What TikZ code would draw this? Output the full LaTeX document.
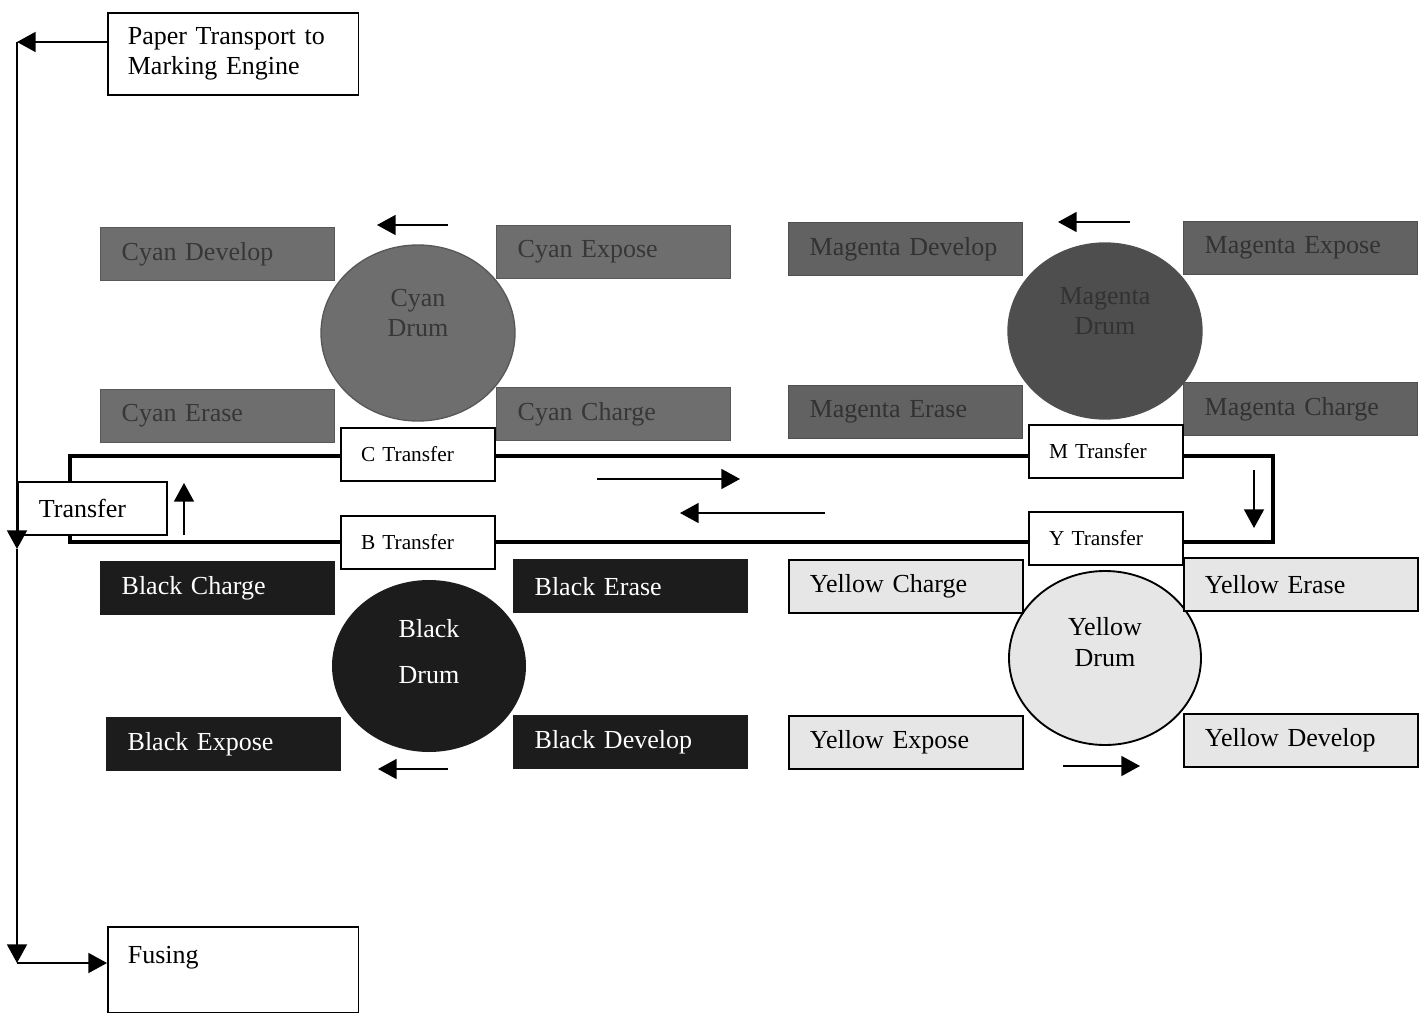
\documentclass[tikz,border=0pt]{standalone}
\usepackage{fontspec}
\setmainfont{Liberation Serif}
\usetikzlibrary{shapes.geometric,arrows.meta}
\definecolor{cfill}{RGB}{110,110,110}
\definecolor{cborder}{RGB}{88,88,88}
\definecolor{ctext}{RGB}{55,55,55}
\definecolor{mfill}{RGB}{98,98,98}
\definecolor{mborder}{RGB}{80,80,80}
\definecolor{mtext}{RGB}{50,50,50}
\definecolor{mdrumfill}{RGB}{78,78,78}
\definecolor{kfill}{RGB}{28,28,28}
\definecolor{yfill}{RGB}{230,230,230}
\begin{document}
\begin{tikzpicture}[x=0.75pt,y=-0.75pt,
  stagebox/.style={rectangle, anchor=north west, minimum height=39.75pt, text width=144pt, inner xsep=15.75pt, inner ysep=0pt, align=left, font=\fontsize{19.5}{23}\selectfont, line width=1pt},
  cyanbox/.style={stagebox, fill=cfill, draw=cborder, text=ctext},
  magbox/.style={stagebox, fill=mfill, draw=mborder, text=mtext},
  blackbox/.style={stagebox, fill=kfill, draw=kfill, text=white},
  yelbox/.style={stagebox, fill=yfill, draw=black, line width=1.4pt, text=black},
  drum/.style={ellipse, minimum width=145.5pt, minimum height=132pt, inner sep=0pt},
  drumtext/.style={font=\fontsize{19.5}{23}\selectfont, align=center},
  xferbox/.style={rectangle, draw, line width=1.5pt, fill=white, anchor=north west, minimum height=39.75pt, text width=85.5pt, inner xsep=15pt, inner ysep=0pt, align=left, font=\fontsize{16}{19}\selectfont},
  plainbox/.style={rectangle, draw, line width=1.3pt, fill=white, anchor=north west, inner xsep=15pt, inner ysep=0pt, align=left, font=\fontsize{19.5}{23}\selectfont},
  belt/.style={line width=3pt},
  flow/.style={line width=1.4pt, -{Triangle[length=14pt,width=15pt]}},
  dirarrow/.style={line width=1.3pt, -{Triangle[length=14pt,width=15pt]}}
]
\useasboundingbox (0,0) rectangle (1424,1013);

% drums
\node[drum, fill=cfill, draw=cborder, line width=1pt,
  label={[drumtext, text=ctext, yshift=15pt]center:Cyan\\Drum}] (cdrum) at (418,333) {};
\node[drum, fill=mdrumfill, draw=mborder, line width=1pt,
  label={[drumtext, text=mtext, yshift=15pt]center:Magenta\\Drum}] (mdrum) at (1105,331) {};
\node[drum, fill=kfill, minimum height=129pt,
  label={[font=\fontsize{19.5}{34.5}\selectfont, align=center, text=white, yshift=10.5pt]center:Black\\Drum}] (kdrum) at (429,666) {};
\node[drum, fill=yfill, draw=black, line width=1.4pt, minimum width=144pt, minimum height=130.5pt,
  label={[drumtext, text=black, yshift=12pt]center:Yellow\\Drum}] (ydrum) at (1105,658) {};

% cyan stages
\node[cyanbox] (cdev) at (100,227) {\mbox{Cyan Develop}};
\node[cyanbox] (cexp) at (496,225) {\mbox{Cyan Expose}};
\node[cyanbox] (cera) at (100,389) {\mbox{Cyan Erase}};
\node[cyanbox] (ccha) at (496,387) {\mbox{Cyan Charge}};
% magenta stages
\node[magbox] (mdev) at (788,222) {\mbox{Magenta Develop}};
\node[magbox] (mexp) at (1183,221) {\mbox{Magenta Expose}};
\node[magbox] (mera) at (788,385) {\mbox{Magenta Erase}};
\node[magbox] (mcha) at (1183,382) {\mbox{Magenta Charge}};
% black stages
\node[blackbox] (kcha) at (100,561) {\mbox{Black Charge}};
\node[blackbox] (kera) at (513,559) {\mbox{Black Erase}};
\node[blackbox] (kexp) at (106,717) {\mbox{Black Expose}};
\node[blackbox] (kdev) at (513,715) {\mbox{Black Develop}};
% yellow stages
\node[yelbox] (ycha) at (788,559) {\mbox{Yellow Charge}};
\node[yelbox] (yera) at (1183,557) {\mbox{Yellow Erase}};
\node[yelbox] (yexp) at (788,715) {\mbox{Yellow Expose}};
\node[yelbox] (ydev) at (1183,713) {\mbox{Yellow Develop}};

% transfer boxes
\node[xferbox] (ctr) at (340,427) {C Transfer};
\node[xferbox] (btr) at (340,515) {B Transfer};
\node[xferbox] (mtr) at (1028,424) {M Transfer};
\node[xferbox] (ytr) at (1028,511) {Y Transfer};
\node[plainbox, text width=80.25pt, inner xsep=15.75pt, minimum height=39.75pt] (tb) at (17,481) {Transfer};

% paper & fusing
\node[plainbox, text width=158pt, minimum height=61.5pt] (paper) at (107,12) {Paper Transport to\\Marking Engine};
\node[plainbox, text width=158pt, minimum height=64.5pt] (fusing) at (107,926) {Fusing\\\mbox{}};

% belt
\coordinate (bul) at (70,456);
\coordinate (bur) at (1273,456);
\coordinate (bll) at (70,542);
\coordinate (blr) at (1273,542);
\draw[belt] (bul |- tb.north) -- (bul) -- (bul -| ctr.west);
\draw[belt] (bul -| ctr.east) -- (bul -| mtr.west);
\draw[belt] (bul -| mtr.east) -- (bur) -- (blr) -- (blr -| ytr.east);
\draw[belt] (blr -| ytr.west) -- (blr -| btr.east);
\draw[belt] (blr -| btr.west) -- (bll) -- (bll |- tb.south);

% paper path
\coordinate (tl) at (17,42);
\coordinate (mid) at (17,549);
\coordinate (bl) at (17,963);
\draw[flow] (tl -| paper.west) -- (tl);
\draw[flow] (tl) -- (mid);
\draw[flow] (mid) -- (bl);
\draw[flow] (bl) -- (bl -| fusing.west);

% direction arrows
\coordinate (ca1) at (448,225); \coordinate (ca2) at (377,225);
\coordinate (ma1) at (1130,222); \coordinate (ma2) at (1058,222);
\coordinate (ka1) at (448,769); \coordinate (ka2) at (378,769);
\coordinate (ya1) at (1063,766); \coordinate (ya2) at (1140,766);
\coordinate (ra1) at (597,479); \coordinate (ra2) at (740,479);
\coordinate (la1) at (825,513); \coordinate (la2) at (680,513);
\coordinate (da1) at (1254,470); \coordinate (da2) at (1254,528);
\coordinate (ua1) at (184,535); \coordinate (ua2) at (184,483);
\draw[dirarrow] (ca1) -- (ca2);
\draw[dirarrow] (ma1) -- (ma2);
\draw[dirarrow] (ka1) -- (ka2);
\draw[dirarrow] (ya1) -- (ya2);
\draw[dirarrow] (ra1) -- (ra2);
\draw[dirarrow] (la1) -- (la2);
\draw[dirarrow] (da1) -- (da2);
\draw[dirarrow] (ua1) -- (ua2);
\end{tikzpicture}
\end{document}
